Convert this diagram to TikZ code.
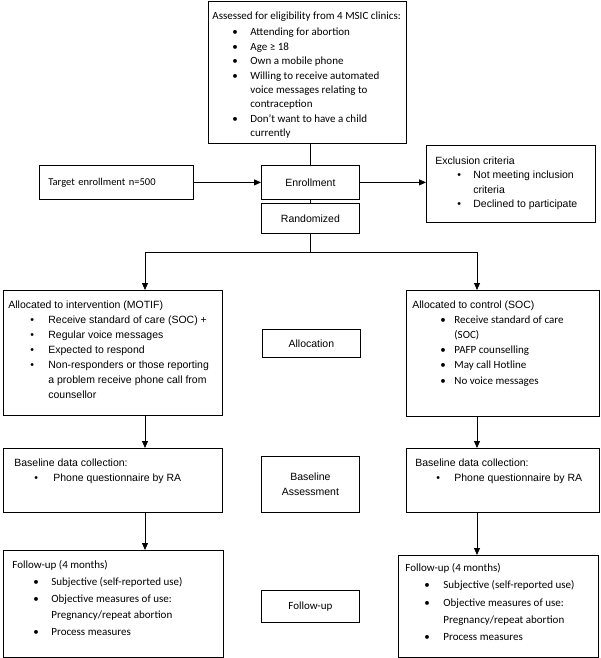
\documentclass[tikz,border=0pt]{standalone}
\usepackage{fontspec}
\setmainfont{Liberation Sans}
\newfontfamily\calfont{Carlito}
\usepackage{tikz}
\usetikzlibrary{arrows.meta}
% line pitch, set by each box
\newlength\lskip
\setlength\lskip{15.5pt}
% fonts of the two kinds of box text
\newcommand{\arl}{\fontsize{10.5}{\lskip}\selectfont}
\newcommand{\clb}{\calfont\fontsize{11}{\lskip}\selectfont}
% box text: width, height, left pad, top pad, line pitch, text
\newcommand{\inbox}[6]{\parbox[c][#2][t]{#1}{\setlength\lskip{#5}\raggedright\leftskip=#3\relax\vspace*{#4}#6\par}}
% bullet item: indent, bullet width, text
\newcommand{\itm}[3]{\hspace*{#1}\makebox[#2][l]{\textbullet}#3}

\begin{document}
\begin{tikzpicture}[x=1pt,y=-1pt]
%
\tikzstyle{bx}=[draw,line width=0.8pt,anchor=north west,inner sep=0pt]
\tikzstyle{cbx}=[draw,line width=0.8pt,anchor=north west,minimum width=98pt,align=center,font=\arl]
\tikzstyle{arr}=[line width=0.8pt,-{Triangle[width=6pt,length=7pt]}]
\tikzstyle{ln}=[line width=0.8pt]
%
\useasboundingbox (0,0) rectangle (600,658);
%
\node[bx](elig) at (208,1){\inbox{198pt}{142pt}{4pt}{10pt}{14.4pt}{\clb
Assessed for eligibility from 4 MSIC clinics:\\[2.5pt]
\itm{20pt}{18pt}{Attending for abortion}\\
\itm{20pt}{18pt}{Age ≥ 18}\\
\itm{20pt}{18pt}{Own a mobile phone}\\
\itm{20pt}{18pt}{Willing to receive automated}\\
\hspace*{38pt}voice messages relating to\\
\hspace*{38pt}contraception\\
\itm{20pt}{18pt}{Don’t want to have a child}\\
\hspace*{38pt}currently}};
%
\node[draw,line width=0.8pt,anchor=north west,inner xsep=9pt,text width=136pt,minimum height=34pt,align=left,font=\clb\fontsize{10.5}{13}\selectfont](target) at (39,165){Target enrollment n=500};
\node[cbx,minimum height=34pt](enroll) at (261,165){Enrollment};
\node[cbx,minimum height=30pt](rand) at (261,203){Randomized};
\node[bx](excl) at (426,145){\inbox{169pt}{77pt}{9pt}{11pt}{14.5pt}{\arl
Exclusion criteria\\
\itm{22pt}{16pt}{Not meeting inclusion}\\
\hspace*{38pt}criteria\\
\itm{22pt}{16pt}{Declined to participate}}};
%
\coordinate(sL) at (145,252);
\coordinate(sR) at (477,252);
%
\node[bx](interv) at (3,290){\inbox{219pt}{125pt}{5pt}{10pt}{15pt}{\arl
Allocated to intervention (MOTIF)\\
\itm{22pt}{18pt}{Receive standard of care (SOC) +}\\
\itm{22pt}{18pt}{Regular voice messages}\\
\itm{22pt}{18pt}{Expected to respond}\\
\itm{22pt}{18pt}{Non-responders or those reporting}\\
\hspace*{40pt}a problem receive phone call from\\
\hspace*{40pt}counsellor}};
\node[cbx,minimum height=28pt](alloc) at (262,329){Allocation};
\node[bx](ctrl) at (406,290){\inbox{193pt}{126pt}{6pt}{10pt}{15.2pt}{\arl
Allocated to control (SOC)\\ \clb
\itm{28pt}{14pt}{Receive standard of care}\\
\hspace*{42pt}(SOC)\\
\itm{28pt}{14pt}{PAFP counselling}\\
\itm{28pt}{14pt}{May call Hotline}\\
\itm{28pt}{14pt}{No voice messages}}};
%
\node[bx](baseL) at (3,448){\inbox{219pt}{64pt}{11pt}{10pt}{15.5pt}{\arl
Baseline data collection:\\
\itm{20pt}{19pt}{Phone questionnaire by RA}}};
\node[cbx,minimum height=56pt](baseC) at (261,456){Baseline\\Assessment};
\node[bx](baseR) at (406,448){\inbox{193pt}{64pt}{9pt}{10pt}{15.5pt}{\arl
Baseline data collection:\\
\itm{21pt}{18pt}{Phone questionnaire by RA}}};
%
\node[bx](follL) at (3,550){\inbox{220pt}{107pt}{9pt}{10pt}{16.8pt}{\clb
Follow-up (4 months)\\
\itm{21pt}{18pt}{Subjective (self-reported use)}\\
\itm{21pt}{18pt}{Objective measures of use:}\\
\hspace*{39pt}Pregnancy/repeat abortion\\
\itm{21pt}{18pt}{Process measures}}};
\node[cbx,minimum height=32pt,font=\clb](follC) at (261,590){Follow-up};
\node[bx](follR) at (398,555){\inbox{200pt}{102pt}{7pt}{8pt}{17.3pt}{\clb
Follow-up (4 months)\\
\itm{19pt}{19pt}{Subjective (self-reported use)}\\
\itm{19pt}{19pt}{Objective measures of use:}\\
\hspace*{38pt}Pregnancy/repeat abortion\\
\itm{19pt}{19pt}{Process measures}}};
%
\draw[ln] (elig.south -| enroll.north) -- (enroll.north);
\draw[arr] (target.east) -- (enroll.west);
\draw[arr] (enroll.east) -- (enroll.east -| excl.west);
\draw[ln] (enroll.south) -- (rand.north);
\draw[ln] (rand.south) -- (rand.south |- sL);
\draw[ln] (sL) -- (sR);
\draw[arr] (sL) -- (sL |- interv.north);
\draw[arr] (sR) -- (sR |- ctrl.north);
\draw[arr] (interv.south -| sL) -- (baseL.north -| sL);
\draw[arr] (baseL.south -| sL) -- (follL.north -| sL);
\draw[arr] (ctrl.south -| sR) -- (baseR.north -| sR);
\draw[arr] (baseR.south -| sR) -- (follR.north -| sR);
\end{tikzpicture}
\end{document}
